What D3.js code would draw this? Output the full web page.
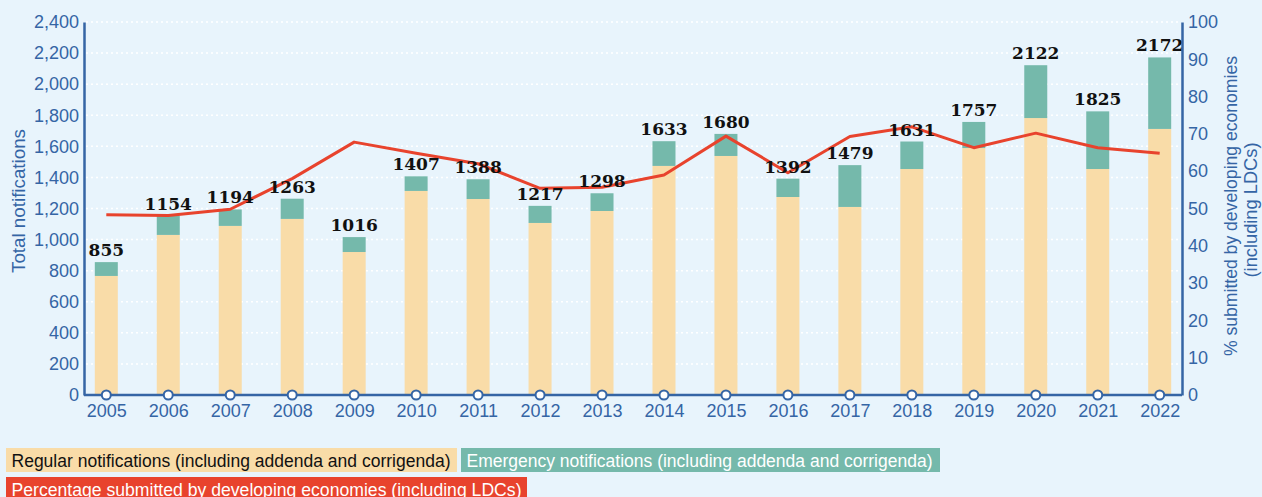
<!DOCTYPE html>
<html>
<head>
<meta charset="utf-8">
<script src="https://cdn.jsdelivr.net/npm/d3@7"></script>
<style>
  body { margin: 0; background: #e8f4fc; }
  svg { display: block; }
</style>
</head>
<body>
<svg id="chart" width="1262" height="497"></svg>
<script>
// chart data
const years = ['2005', '2006', '2007', '2008', '2009', '2010', '2011', '2012', '2013',
    '2014', '2015', '2016', '2017', '2018', '2019', '2020', '2021', '2022'];
const totals = [855, 1154, 1194, 1263, 1016, 1407, 1388, 1217, 1298,
    1633, 1680, 1392, 1479, 1631, 1757, 2122, 1825, 2172];
const regular = [766, 1030, 1088, 1133, 920, 1313, 1261, 1107, 1184,
    1474, 1538, 1274, 1210, 1454, 1589, 1782, 1454, 1712];
const pctDeveloping = [48.3, 48.1, 49.8, 58.0, 67.8, 64.8, 62.0, 55.4, 55.7,
    59.0, 69.4, 59.6, 69.3, 71.9, 66.3, 70.2, 66.3, 64.8];
const leftTicks = d3.range(0, 2401, 200);
const rightTicks = d3.range(0, 101, 10);
const legendItems = [
    { label: 'Regular notifications (including addenda and corrigenda)', fill: '#f9dca8', text: '#111' },
    { label: 'Emergency notifications (including addenda and corrigenda)', fill: '#75b9ab', text: '#fff' },
    { label: 'Percentage submitted by developing economies (including LDCs)', fill: '#e8432d', text: '#fff' },
];

const blue = '#3565a5';
const axisFont = '"Liberation Sans", Arial, sans-serif';

const svg = d3.select('#chart');
svg.append('rect').attr('width', 1262).attr('height', 497).attr('fill', '#e8f4fc');

const plotLeft = 84, plotRight = 1182, plotTop = 22, plotBottom = 395;

const x = d3.scalePoint().domain(years).range([plotLeft, plotRight]).padding(0.36);
const yLeft = d3.scaleLinear().domain([0, 2400]).range([plotBottom, plotTop]);
const yRight = d3.scaleLinear().domain([0, 100]).range([plotBottom, plotTop]);
const barW = 23;

// dotted gridlines
svg.append('g')
    .selectAll('line')
    .data(leftTicks.filter(d => d > 0))
    .enter()
    .append('line')
    .attr('x1', plotLeft + 2)
    .attr('x2', plotRight - 2)
    .attr('y1', d => yLeft(d))
    .attr('y2', d => yLeft(d))
    .attr('stroke', '#fff')
    .attr('stroke-width', 1.5)
    .attr('stroke-dasharray', '2,3');

// stacked bars
const bars = svg.append('g');
bars.selectAll('.reg')
    .data(years)
    .enter()
    .append('rect')
    .attr('class', 'reg')
    .attr('x', d => x(d) - barW / 2)
    .attr('width', barW)
    .attr('y', (d, i) => yLeft(regular[i]))
    .attr('height', (d, i) => yLeft(0) - yLeft(regular[i]))
    .attr('fill', '#f9dca8');
bars.selectAll('.emg')
    .data(years)
    .enter()
    .append('rect')
    .attr('class', 'emg')
    .attr('x', d => x(d) - barW / 2)
    .attr('width', barW)
    .attr('y', (d, i) => yLeft(totals[i]))
    .attr('height', (d, i) => yLeft(regular[i]) - yLeft(totals[i]))
    .attr('fill', '#75b9ab');

// percentage line
const line = d3.line()
    .x((d, i) => x(years[i]))
    .y(d => yRight(d));
svg.append('path')
    .datum(pctDeveloping)
    .attr('d', line)
    .attr('fill', 'none')
    .attr('stroke', '#e8432d')
    .attr('stroke-width', 3)
    .attr('stroke-linejoin', 'round');

// total labels
svg.append('g')
    .selectAll('text')
    .data(years)
    .enter()
    .append('text')
    .attr('x', d => x(d))
    .attr('y', (d, i) => yLeft(totals[i]) - 6)
    .attr('text-anchor', 'middle')
    .attr('font-family', '"DejaVu Serif", serif')
    .attr('font-weight', 'bold')
    .attr('font-size', 17)
    .attr('fill', '#111')
    .text((d, i) => totals[i]);

// axes
const axisL = svg.append('g')
    .attr('transform', `translate(${plotLeft},0)`)
    .call(d3.axisLeft(yLeft).tickValues(leftTicks).tickSize(0).tickPadding(5).tickFormat(d3.format(',')));
const axisR = svg.append('g')
    .attr('transform', `translate(${plotRight},0)`)
    .call(d3.axisRight(yRight).tickValues(rightTicks).tickSize(0).tickPadding(6));
const axisB = svg.append('g')
    .attr('transform', `translate(0,${plotBottom})`)
    .call(d3.axisBottom(x).tickSize(0).tickPadding(9));
axisB.select('.domain').attr('d', `M${plotLeft},0H${plotRight}`);

[axisL, axisR, axisB].forEach(a => {
    a.select('.domain').attr('stroke', blue).attr('stroke-width', 2.5);
    a.selectAll('text')
        .attr('fill', blue)
        .attr('font-family', axisFont)
        .attr('font-size', 18);
});

// baseline markers
svg.append('g')
    .selectAll('circle')
    .data(years)
    .enter()
    .append('circle')
    .attr('cx', d => x(d))
    .attr('cy', plotBottom)
    .attr('r', 4.5)
    .attr('fill', '#fff')
    .attr('stroke', blue)
    .attr('stroke-width', 2);

// axis titles
const titles = [
    { text: 'Total notifications', x: 25, y: 201, len: 144 },
    { text: '% submitted by developing economies', x: 1237, y: 206, len: 300 },
    { text: '(including LDCs)', x: 1257, y: 210, len: 135 },
];
svg.append('g')
    .selectAll('text')
    .data(titles)
    .enter()
    .append('text')
    .attr('transform', d => `translate(${d.x},${d.y}) rotate(-90)`)
    .attr('text-anchor', 'middle')
    .attr('font-family', axisFont)
    .attr('font-size', 17.5)
    .attr('fill', blue)
    .attr('textLength', d => d.len)
    .attr('lengthAdjust', 'spacingAndGlyphs')
    .text(d => d.text);

// legend
const legendPos = [
    { x: 6, y: 448, w: 451, h: 24, tl: 439 },
    { x: 461, y: 448, w: 479, h: 24, tl: 466 },
    { x: 6, y: 477, w: 521, h: 22, tl: 510 },
];
const legend = svg.append('g')
    .selectAll('g')
    .data(legendItems)
    .enter()
    .append('g')
    .attr('transform', (d, i) => `translate(${legendPos[i].x},${legendPos[i].y})`);
legend.append('rect')
    .attr('width', (d, i) => legendPos[i].w)
    .attr('height', (d, i) => legendPos[i].h)
    .attr('fill', d => d.fill);
legend.append('text')
    .attr('x', 5.5)
    .attr('y', 18.5)
    .attr('font-family', axisFont)
    .attr('font-size', 17.5)
    .attr('fill', d => d.text)
    .attr('textLength', (d, i) => legendPos[i].tl)
    .attr('lengthAdjust', 'spacingAndGlyphs')
    .text(d => d.label);
</script>
</body>
</html>
